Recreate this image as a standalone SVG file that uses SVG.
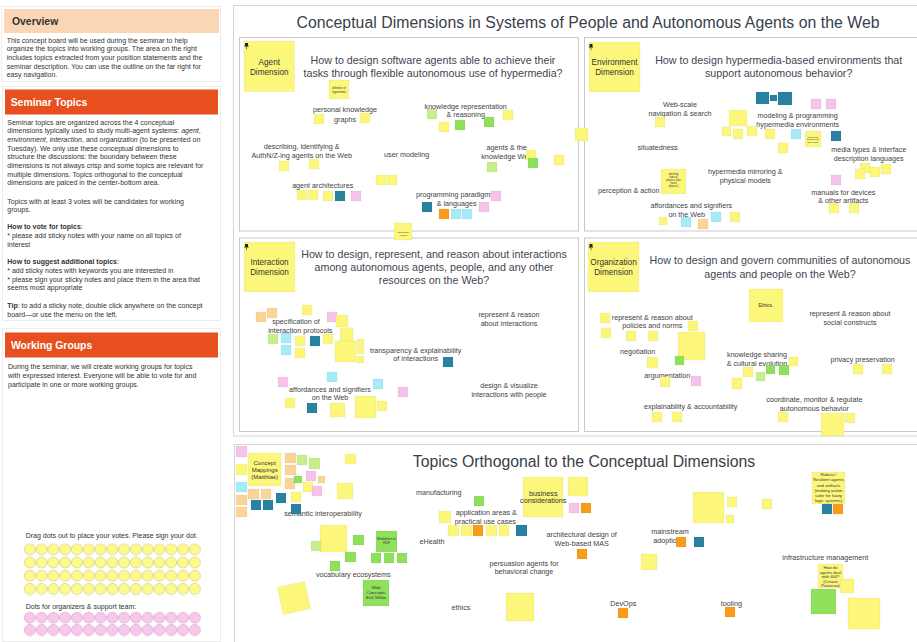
<svg xmlns="http://www.w3.org/2000/svg" width="917" height="642" viewBox="0 0 917 642">
<defs>
<style>
text{font-family:"Liberation Sans",Arial,sans-serif}
.pt{font-size:7px;fill:#333}
.h{font-size:10.4px;font-weight:bold}
.panel{fill:#fff;stroke:#ececec;stroke-width:1}
.frame{fill:none;stroke:#d6d6d6;stroke-width:1}
.quad{fill:#fff;stroke:#c9c9c9;stroke-width:1}
.title{font-size:15.8px;fill:#38404a;text-anchor:middle}
.q{font-size:10.7px;fill:#3f4650;text-anchor:middle}
.l{font-size:7.2px;fill:#424242;text-anchor:middle}
.st{font-size:8.2px;fill:#333;text-anchor:middle}
.tiny{fill:#333;text-anchor:middle}
rect.y,rect.g,rect.lg,rect.t,rect.p,rect.lb,rect.o,rect.ol{stroke:rgba(0,0,0,0.07);stroke-width:0.6}
.y{fill:#fcf77b}
.g{fill:#8fe05b}
.lg{fill:#c6ef8c}
.t{fill:#2a82a2}
.p{fill:#f8c3ea}
.lb{fill:#a6ecf8}
.o{fill:#f99c18}
.ol{fill:#fcd596}
</style>
<pattern id="ydots" x="23.9" y="543.4" width="11.79" height="13.23" patternUnits="userSpaceOnUse">
<circle cx="5.9" cy="5.9" r="5.5" fill="#fdfa8c" stroke="#c8c37a" stroke-width="0.6"/>
</pattern>
<pattern id="pdots" x="23.9" y="611.8" width="11.79" height="12.3" patternUnits="userSpaceOnUse">
<circle cx="5.9" cy="5.9" r="5.5" fill="#f9c6ec" stroke="#caa0c0" stroke-width="0.6"/>
</pattern>
<g id="pin"><path d="M-1.5,0h3v2.6l1,1h-5l1-1z" fill="#222"/><path d="M0,3.6v2.6" stroke="#222" stroke-width="0.6"/></g>
</defs>
<rect width="917" height="642" fill="#fff"/>

<!-- LEFT PANELS -->
<g id="overview">
<rect class="panel" x="1.5" y="6.5" width="219" height="75"/>
<rect x="4" y="9" width="215" height="24" fill="#fbd6b5"/>
<text class="h" x="12" y="25" fill="#333">Overview</text>
<text class="pt" x="6.7" y="42.5">This concept board will be used during the seminar to help</text>
<text class="pt" x="6.7" y="51.2">organize the topics into working groups. The area on the right</text>
<text class="pt" x="6.7" y="59.8">includes topics extracted from your position statements and the</text>
<text class="pt" x="6.7" y="68.5">seminar description. You can use the outline on the far right for</text>
<text class="pt" x="6.7" y="77.2">easy navigation.</text>
</g>
<g id="seminar-topics">
<rect class="panel" x="2.5" y="86.5" width="218" height="234"/>
<rect x="5" y="89.5" width="213" height="25" fill="#e84f1e"/>
<text class="h" x="10.7" y="105.5" fill="#fff">Seminar Topics</text>
<text class="pt" x="7.3" y="124.5">Seminar topics are organized across the 4 conceptual</text>
<text class="pt" x="7.3" y="133.2">dimensions typically used to study multi-agent systems: <tspan font-style="italic">agent</tspan>,</text>
<text class="pt" x="7.3" y="141.8"><tspan font-style="italic">environment</tspan>, <tspan font-style="italic">interaction</tspan>, and <tspan font-style="italic">organization</tspan> (to be presented on</text>
<text class="pt" x="7.3" y="150.5">Tuesday). We only use these conceptual dimensions to</text>
<text class="pt" x="7.3" y="159.2">structure the discussions: the boundary between these</text>
<text class="pt" x="7.3" y="167.8">dimensions is not always crisp and some topics are relevant for</text>
<text class="pt" x="7.3" y="176.5">multiple dimensions. Topics orthogonal to the conceptual</text>
<text class="pt" x="7.3" y="185.2">dimensions are palced in the center-bottom area.</text>
<text class="pt" x="7.3" y="203.5">Topics with at least 3 votes will be candidates for working</text>
<text class="pt" x="7.3" y="212.2">groups.</text>
<text class="pt" x="7.3" y="229.2"><tspan font-weight="bold">How to vote for topics</tspan>:</text>
<text class="pt" x="7.3" y="237.8">* please add sticky notes with your name on all topics of</text>
<text class="pt" x="7.3" y="246.8">interest</text>
<text class="pt" x="7.3" y="264.2"><tspan font-weight="bold">How to suggest additional topics</tspan>:</text>
<text class="pt" x="7.3" y="272.8">* add sticky notes with keywords you are interested in</text>
<text class="pt" x="7.3" y="281.5">* please sign your sticky notes and place them in the area that</text>
<text class="pt" x="7.3" y="290.2">seems most appropriate</text>
<text class="pt" x="7.3" y="307.8"><tspan font-weight="bold">Tip</tspan>: to add a sticky note, double click anywhere on the concept</text>
<text class="pt" x="7.3" y="316.5">board—or use the menu on the left.</text>
</g>
<g id="working-groups">
<rect class="panel" x="2.5" y="328.5" width="218" height="313"/>
<rect x="5" y="332.5" width="213" height="25" fill="#e84f1e"/>
<text class="h" x="11" y="349" fill="#fff">Working Groups</text>
<text class="pt" x="8" y="369.2">During the seminar, we will create working groups for topics</text>
<text class="pt" x="8" y="377.8">with expressed interest. Everyone will be able to vote for and</text>
<text class="pt" x="8" y="386.8">participate in one or more working groups.</text>
</g>
<g id="votes">
<text class="pt" x="25.7" y="538.3" fill="#555">Drag dots out to place your votes. Please sign your dot.</text>
<rect x="23.9" y="543.4" width="176.9" height="52.9" fill="url(#ydots)"/>
<text class="pt" x="25.7" y="609.3" fill="#555">Dots for organizers &amp; support team:</text>
<rect x="23.9" y="611.8" width="176.9" height="24.6" fill="url(#pdots)"/>
</g>

<!-- MAIN BOARD -->
<g id="board">
<rect class="frame" x="233.5" y="5.5" width="700" height="430.5"/>
<text class="title" x="588" y="28" textLength="583" lengthAdjust="spacing">Conceptual Dimensions in Systems of People and Autonomous Agents on the Web</text>
</g>

<!-- AGENT -->
<g id="agent-dimension">
<rect class="quad" x="239.5" y="37.5" width="339" height="193.5"/>
<rect class="y" x="244" y="41" width="50.5" height="50.5"/>
<use href="#pin" x="246.5" y="43"/>
<text class="st" x="269.3" y="65">Agent</text>
<text class="st" x="269.3" y="75">Dimension</text>
<text class="q" x="433" y="64">How to design software agents able to achieve their</text>
<text class="q" x="433" y="77">tasks through flexible autonomous use of hypermedia?</text>
<text class="l" x="345" y="112">personal knowledge</text>
<text class="l" x="345" y="121.5">graphs</text>
<text class="l" x="465.7" y="108.5">knowledge representation</text>
<text class="l" x="465.7" y="117.1">&amp; reasoning</text>
<text class="l" x="301.7" y="149.1">describing, identifying &amp;</text>
<text class="l" x="301.7" y="157.8">AuthN/Z-ing agents on the Web</text>
<text class="l" x="406.7" y="156.5">user modeling</text>
<text class="l" x="506.7" y="149.8">agents &amp; the</text>
<text class="l" x="506.7" y="158.8">knowledge Web</text>
<text class="l" x="322.7" y="187.8">agent architectures</text>
<text class="l" x="455" y="196.8">programming paradigms</text>
<text class="l" x="456.7" y="205.5">&amp; languages</text>
<rect class="y" x="329" y="80" width="20" height="19"/>
<text class="tiny" x="339" y="89.3" font-size="2.6">definition of</text>
<text class="tiny" x="339" y="92.5" font-size="2.6">hypermedia</text>
<rect class="y" x="314" y="114" width="10" height="10"/>
<rect class="y" x="360" y="113" width="10" height="10"/>
<rect class="lg" x="427" y="109" width="10" height="10"/>
<rect class="y" x="439" y="122" width="10" height="10"/>
<rect class="g" x="455" y="120" width="10" height="10"/>
<rect class="g" x="484" y="117" width="10" height="10"/>
<rect class="y" x="503" y="110" width="10" height="10"/>
<rect class="y" x="279" y="161" width="10" height="10"/>
<rect class="y" x="309" y="159" width="10" height="10"/>
<rect class="lg" x="487" y="162" width="10" height="10"/>
<rect class="y" x="526" y="150" width="10" height="10"/>
<rect class="g" x="528" y="158" width="10" height="10"/>
<rect class="y" x="554" y="155" width="10" height="10"/>
<rect class="y" x="376" y="175" width="10" height="10"/>
<rect class="y" x="387" y="175" width="10" height="10"/>
<rect class="y" x="297" y="190" width="10" height="10"/>
<rect class="y" x="308" y="190" width="10" height="10"/>
<rect class="y" x="323" y="191" width="10" height="10"/>
<rect class="t" x="335" y="191" width="10" height="10"/>
<rect class="p" x="351" y="191" width="10" height="10"/>
<rect class="p" x="491" y="191" width="10" height="10"/>
<rect class="t" x="422" y="202" width="10" height="10"/>
<rect class="p" x="479" y="202" width="10" height="10"/>
<rect class="o" x="439" y="209" width="10" height="10"/>
<rect class="lb" x="451" y="209" width="10" height="10"/>
<rect class="lb" x="462" y="209" width="10" height="10"/>
</g>

<!-- ENVIRONMENT -->
<g id="environment-dimension">
<rect class="quad" x="584.5" y="37.5" width="340" height="193.5"/>
<rect class="y" x="589" y="42" width="51" height="50"/>
<use href="#pin" x="591" y="44"/>
<text class="st" x="614.5" y="65">Environment</text>
<text class="st" x="614.5" y="75">Dimension</text>
<text class="q" x="778.7" y="64">How to design hypermedia-based environments that</text>
<text class="q" x="778.7" y="77">support autonomous behavior?</text>
<text class="l" x="680" y="106.8">Web-scale</text>
<text class="l" x="680" y="115.8">navigation &amp; search</text>
<text class="l" x="797.7" y="117.5">modeling &amp; programming</text>
<text class="l" x="797.7" y="126.5">hypermedia environments</text>
<text class="l" x="657.7" y="150.1">situatedness</text>
<text class="l" x="868.7" y="151.8">media types &amp; interface</text>
<text class="l" x="868.7" y="160.5">description languages</text>
<text class="l" x="745.3" y="173.8">hypermedia mirroring &amp;</text>
<text class="l" x="745.3" y="182.5">physical models</text>
<text class="l" x="628.7" y="192.8">perception &amp; action</text>
<text class="l" x="843.3" y="194.5">manuals for devices</text>
<text class="l" x="843.3" y="203.1">&amp; other artifacts</text>
<text class="l" x="691.3" y="208.1">affordances and signifiers</text>
<text class="l" x="686.7" y="216.8">on the Web</text>
<rect class="t" x="756" y="92" width="13" height="12"/>
<rect class="t" x="770" y="95" width="7" height="6"/>
<rect class="t" x="778" y="92" width="14" height="13"/>
<rect class="p" x="811" y="99" width="10" height="10"/>
<rect class="p" x="826" y="99" width="10" height="10"/>
<rect class="y" x="729" y="110" width="18" height="16"/>
<rect class="y" x="722" y="127" width="9" height="9"/>
<rect class="y" x="733" y="129" width="10" height="10"/>
<rect class="y" x="747" y="126" width="10" height="10"/>
<rect class="y" x="765" y="129" width="10" height="10"/>
<rect class="lb" x="791" y="129" width="10" height="10"/>
<rect class="y" x="805" y="131" width="16" height="16"/>
<text class="tiny" x="813" y="137.5" font-size="2.4">diff Range</text>
<text class="tiny" x="813" y="140.3" font-size="2.4">Documents</text>
<text class="tiny" x="813" y="143.1" font-size="2.4">Erik Wilde</text>
<rect class="t" x="831" y="131" width="10" height="10"/>
<rect class="y" x="778" y="143" width="10" height="10"/>
<rect class="y" x="655" y="117" width="10" height="10"/>
<rect class="y" x="661" y="169" width="25" height="25"/>
<text class="tiny" x="673.5" y="174.5" font-size="2.6">mocking</text>
<text class="tiny" x="673.5" y="177.7" font-size="2.6">laws of</text>
<text class="tiny" x="673.5" y="180.9" font-size="2.6">physics (aka</text>
<text class="tiny" x="673.5" y="184.1" font-size="2.6">naive</text>
<text class="tiny" x="673.5" y="187.3" font-size="2.6">physics)</text>
<rect class="y" x="860" y="163" width="10" height="10"/>
<rect class="y" x="855" y="169" width="10" height="10"/>
<rect class="y" x="870" y="167" width="10" height="10"/>
<rect class="y" x="881" y="164" width="10" height="10"/>
<rect class="p" x="831" y="175" width="10" height="10"/>
<rect class="y" x="829" y="203" width="10" height="10"/>
<rect class="y" x="849" y="203" width="10" height="10"/>
<rect class="y" x="659" y="217" width="8" height="8"/>
<rect class="lb" x="681" y="217" width="10" height="10"/>
<rect class="ol" x="698" y="219" width="10" height="10"/>
<rect class="lb" x="711" y="212" width="10" height="10"/>
<rect class="y" x="730" y="212" width="10" height="10"/>
</g>

<!-- INTERACTION -->
<g id="interaction-dimension">
<rect class="quad" x="239.5" y="238" width="339" height="193.5"/>
<rect class="y" x="244" y="242" width="51" height="50"/>
<use href="#pin" x="246.5" y="244"/>
<text class="st" x="269.5" y="265">Interaction</text>
<text class="st" x="269.5" y="275">Dimension</text>
<text class="q" x="434" y="258.3">How to design, represent, and reason about interactions</text>
<text class="q" x="434" y="271.3">among autonomous agents, people, and any other</text>
<text class="q" x="434" y="284.3">resources on the Web?</text>
<text class="l" x="296" y="324.1">specification of</text>
<text class="l" x="300.3" y="333.1">interaction protocols</text>
<text class="l" x="509" y="317.1">represent &amp; reason</text>
<text class="l" x="509" y="325.8">about interactions</text>
<text class="l" x="415.7" y="352.5">transparency &amp; explainability</text>
<text class="l" x="415.7" y="361.1">of interactions</text>
<text class="l" x="330" y="391.5">affordances and signifiers</text>
<text class="l" x="330" y="400.1">on the Web</text>
<text class="l" x="509" y="387.5">design &amp; visualize</text>
<text class="l" x="509" y="396.5">interactions with people</text>
<rect class="ol" x="256" y="312" width="10" height="10"/>
<rect class="ol" x="267" y="308" width="10" height="10"/>
<rect class="y" x="302" y="305" width="10" height="10"/>
<rect class="p" x="327" y="312" width="10" height="10"/>
<rect class="y" x="336" y="315" width="12" height="12"/>
<rect class="y" x="340" y="328" width="13" height="13"/>
<rect class="y" x="335" y="341" width="21" height="21"/>
<rect class="y" x="357" y="339" width="7" height="7"/>
<rect class="y" x="357" y="347" width="7" height="7"/>
<rect class="y" x="357" y="356" width="7" height="7"/>
<rect class="lg" x="268" y="334" width="10" height="10"/>
<rect class="lb" x="281" y="333" width="10" height="10"/>
<rect class="y" x="295" y="336" width="10" height="10"/>
<rect class="t" x="310" y="336" width="10" height="10"/>
<rect class="y" x="323" y="334" width="10" height="10"/>
<rect class="lb" x="281" y="345" width="10" height="10"/>
<rect class="y" x="295" y="348" width="10" height="10"/>
<rect class="t" x="443" y="357" width="10" height="10"/>
<rect class="lb" x="327" y="372" width="10" height="10"/>
<rect class="p" x="278" y="377" width="10" height="10"/>
<rect class="lb" x="373" y="379" width="10" height="10"/>
<rect class="p" x="398" y="387" width="10" height="10"/>
<rect class="y" x="285" y="398" width="10" height="10"/>
<rect class="t" x="307" y="403" width="10" height="10"/>
<rect class="y" x="330" y="403" width="15" height="14"/>
<rect class="y" x="355" y="396" width="21" height="22"/>
<rect class="y" x="377" y="401" width="10" height="10"/>
</g>

<!-- ORGANIZATION -->
<g id="organization-dimension">
<rect class="quad" x="584.5" y="238" width="340" height="193.5"/>
<rect class="y" x="588" y="242" width="51" height="50"/>
<use href="#pin" x="591" y="244"/>
<text class="st" x="613.5" y="265">Organization</text>
<text class="st" x="613.5" y="275">Dimension</text>
<text class="q" x="780" y="264">How to design and govern communities of autonomous</text>
<text class="q" x="780" y="277.7">agents and people on the Web?</text>
<text class="l" x="652.3" y="319.5">represent &amp; reason about</text>
<text class="l" x="652.3" y="328.1">policies and norms</text>
<text class="l" x="850" y="315.8">represent &amp; reason about</text>
<text class="l" x="850" y="324.5">social constructs</text>
<text class="l" x="637.7" y="353.5">negotiation</text>
<text class="l" x="757" y="356.8">knowledge sharing</text>
<text class="l" x="757" y="365.5">&amp; cultural evolution</text>
<text class="l" x="862.7" y="361.5">privacy preservation</text>
<text class="l" x="667.3" y="377.5">argumentation</text>
<text class="l" x="690.7" y="408.8">explainability &amp; accountability</text>
<text class="l" x="814.3" y="401.8">coordinate, monitor &amp; regulate</text>
<text class="l" x="814.3" y="410.5">autonomous behavior</text>
<rect class="y" x="749" y="289" width="34" height="33"/>
<text class="tiny" x="766" y="307" font-size="5">Ethics.</text>
<rect class="y" x="600" y="313" width="10" height="10"/>
<rect class="y" x="601" y="328" width="10" height="10"/>
<rect class="y" x="626" y="331" width="10" height="10"/>
<rect class="y" x="648" y="331" width="10" height="10"/>
<rect class="y" x="688" y="321" width="10" height="10"/>
<rect class="y" x="678" y="332" width="27" height="28"/>
<rect class="y" x="647" y="357" width="11" height="11"/>
<rect class="g" x="675" y="356" width="9" height="9"/>
<rect class="y" x="660" y="377" width="10" height="10"/>
<rect class="p" x="691" y="376" width="10" height="10"/>
<rect class="y" x="743" y="367" width="10" height="10"/>
<rect class="y" x="732" y="378" width="10" height="11"/>
<rect class="lg" x="756" y="372" width="9" height="9"/>
<rect class="g" x="766" y="365" width="9" height="9"/>
<rect class="g" x="779" y="365" width="10" height="10"/>
<rect class="y" x="789" y="357" width="9" height="9"/>
<rect class="y" x="853" y="364" width="10" height="10"/>
<rect class="y" x="882" y="364" width="10" height="10"/>
<rect class="y" x="652" y="412" width="10" height="10"/>
<rect class="y" x="672" y="412" width="10" height="10"/>
<rect class="y" x="778" y="412" width="10" height="10"/>
<rect class="y" x="821" y="413" width="23" height="23"/>
<rect class="y" x="845" y="413" width="10" height="10"/>
</g>

<g id="crossing-notes">
<rect class="y" x="575" y="128" width="13" height="13"/>
<rect class="y" x="394" y="223" width="18" height="17"/>
<text class="tiny" x="403" y="233" font-size="2.4">Integrating</text>
<text class="tiny" x="403" y="236" font-size="2.4">Agents</text>
</g>

<!-- TOPICS ORTHOGONAL -->
<g id="orthogonal-topics">
<rect class="frame" x="234.5" y="444.5" width="700" height="210"/>
<text class="title" x="584" y="467">Topics Orthogonal to the Conceptual Dimensions</text>
<text class="l" x="323" y="515.5">semantic interoperability</text>
<text class="l" x="353.3" y="576.5">vocabulary ecosystems</text>
<text class="l" x="438.7" y="495.1">manufacturing</text>
<text class="l" x="486.3" y="515.1">application areas &amp;</text>
<text class="l" x="485.3" y="523.8">practical use cases</text>
<text class="l" x="432" y="543.8">eHealth</text>
<text class="l" x="524" y="565.5">persuasion agents for</text>
<text class="l" x="524" y="574.1">behavioral change</text>
<text class="l" x="461" y="609.5">ethics</text>
<text class="l" x="581.7" y="537.1">architectural design of</text>
<text class="l" x="581.7" y="545.8">Web-based MAS</text>
<text class="l" x="670" y="534.1">mainstream</text>
<text class="l" x="667" y="542.8">adoption</text>
<text class="l" x="623.3" y="605.5">DevOps</text>
<text class="l" x="731.3" y="605.5">tooling</text>
<text class="l" x="825.3" y="559.5">infrastructure management</text>

<rect class="p" x="236" y="446" width="11" height="11"/>
<rect class="y" x="248" y="453" width="33" height="33"/>
<text class="tiny" x="264.7" y="465.3" font-size="6">Concept</text>
<text class="tiny" x="264.7" y="472" font-size="6">Mappings</text>
<text class="tiny" x="264.7" y="479" font-size="6">(Matthias)</text>
<rect class="y" x="236" y="464" width="11" height="11"/>
<rect class="lb" x="236" y="482" width="11" height="10"/>
<rect class="ol" x="236" y="495" width="11" height="10"/>
<rect class="ol" x="236" y="507" width="11" height="10"/>
<rect class="ol" x="248" y="489" width="11" height="10"/>
<rect class="ol" x="261" y="489" width="10" height="10"/>
<rect class="t" x="251" y="500" width="10" height="10"/>
<rect class="t" x="263" y="500" width="10" height="10"/>
<rect class="t" x="276" y="493" width="10" height="10"/>
<rect class="ol" x="285" y="453" width="11" height="10"/>
<rect class="ol" x="285" y="465" width="11" height="10"/>
<rect class="ol" x="285" y="478" width="10" height="11"/>
<rect class="lg" x="297" y="455" width="10" height="10"/>
<rect class="lg" x="309" y="458" width="11" height="11"/>
<rect class="p" x="306" y="471" width="10" height="10"/>
<rect class="g" x="294" y="476" width="8" height="7"/>
<rect class="ol" x="318" y="476" width="7" height="7"/>
<rect class="y" x="303" y="482" width="10" height="10"/>
<rect class="p" x="312" y="486" width="10" height="10"/>
<rect class="y" x="291" y="492" width="10" height="10"/>
<rect class="t" x="291" y="504" width="10" height="10"/>
<rect class="y" x="345" y="454" width="11" height="10"/>
<rect class="y" x="337" y="483" width="16" height="16"/>
<rect class="y" x="320" y="525" width="27" height="27"/>
<rect class="lg" x="311" y="541" width="10" height="10"/>
<rect class="g" x="353" y="535" width="11" height="10"/>
<rect class="g" x="376" y="531" width="21" height="21"/>
<text class="tiny" x="386.5" y="540" font-size="3.4">Modalities in</text>
<text class="tiny" x="386.5" y="544.3" font-size="3.4">RDF</text>
<rect class="g" x="345" y="552" width="11" height="10"/>
<rect class="g" x="371" y="553" width="10" height="10"/>
<rect class="g" x="384" y="553" width="10" height="10"/>
<rect class="g" x="397" y="553" width="10" height="10"/>
<rect class="g" x="330" y="561" width="10" height="10"/>
<rect class="g" x="363" y="580" width="26" height="26"/>
<text class="tiny" x="376" y="588.5" font-size="4.4">Web</text>
<text class="tiny" x="376" y="593.8" font-size="4.4">Concepts</text>
<text class="tiny" x="376" y="599.2" font-size="4.4">Erik Wilde</text>
<rect class="y" x="280" y="584" width="28" height="28" transform="rotate(-12 294 598)"/>
<rect class="g" x="474" y="496" width="10" height="10"/>
<rect class="y" x="439" y="511" width="12" height="12"/>
<rect class="y" x="448" y="525" width="11" height="11"/>
<rect class="y" x="461" y="525" width="11" height="11"/>
<rect class="o" x="473" y="525" width="10" height="11"/>
<rect class="y" x="486" y="525" width="11" height="11"/>
<rect class="y" x="499" y="525" width="10" height="11"/>
<rect class="t" x="516" y="525" width="11" height="11"/>
<rect class="y" x="523" y="477" width="40" height="40"/>
<text class="tiny" x="543.3" y="495.8" font-size="7.2" fill="#444">business</text>
<text class="tiny" x="543.3" y="503.3" font-size="7.2" fill="#444">considerations</text>
<rect class="y" x="568" y="477" width="20" height="19"/>
<rect class="p" x="569" y="503" width="10" height="10"/>
<rect class="o" x="581" y="503" width="10" height="10"/>
<rect class="o" x="577" y="549" width="10" height="10"/>
<rect class="o" x="676" y="537" width="10" height="10"/>
<rect class="t" x="694" y="537" width="10" height="10"/>
<rect class="y" x="641" y="554" width="16" height="16"/>
<rect class="y" x="693" y="492" width="31" height="31"/>
<rect class="y" x="727" y="497" width="10" height="10"/>
<rect class="y" x="726" y="515" width="8" height="8"/>
<rect class="y" x="762" y="499" width="10" height="10"/>
<rect class="o" x="618" y="608" width="10" height="10"/>
<rect class="o" x="725" y="607" width="10" height="10"/>
<rect class="y" x="506" y="593" width="28" height="28"/>
<rect class="y" x="812" y="472" width="33" height="32"/>
<text class="tiny" x="828.5" y="476" font-size="4.3">Robust /</text>
<text class="tiny" x="828.5" y="481.3" font-size="4.3">Resilient agents</text>
<text class="tiny" x="828.5" y="486.6" font-size="4.3">and artifacts</text>
<text class="tiny" x="828.5" y="491.9" font-size="4.3">(making action</text>
<text class="tiny" x="828.5" y="497.2" font-size="4.3">safer for fuzzy</text>
<text class="tiny" x="828.5" y="502.4" font-size="4.3">logic systems)</text>
<rect class="t" x="822" y="504" width="10" height="10"/>
<rect class="o" x="833" y="504" width="10" height="10"/>
<rect class="y" x="818" y="564" width="25" height="24"/>
<text class="tiny" x="830.5" y="569.2" font-size="4.1">How do</text>
<text class="tiny" x="830.5" y="573.7" font-size="4.1">agents deal</text>
<text class="tiny" x="830.5" y="578.2" font-size="4.1">with 404?</text>
<text class="tiny" x="830.5" y="582.5" font-size="4.1">(Cesare</text>
<text class="tiny" x="830.5" y="587" font-size="4.1">Pautasso)</text>
<rect class="y" x="840" y="579" width="14" height="14"/>
<rect class="g" x="811" y="589" width="25" height="25"/>
<rect class="y" x="848" y="598" width="32" height="31"/>
</g>
</svg>
